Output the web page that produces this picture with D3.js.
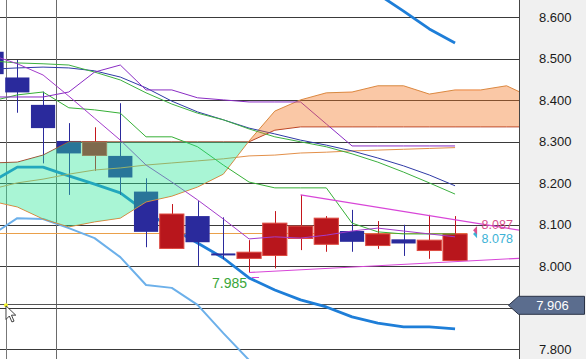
<!DOCTYPE html>
<html>
<head>
<meta charset="utf-8">
<script src="https://cdn.jsdelivr.net/npm/d3@7"></script>
<style>
	body{margin:0;background:#fff;overflow:hidden;}
	#chart{width:586px;height:359px;}
	text{font-family:"Liberation Sans Narrow","Arial Narrow","Liberation Sans",Arial,sans-serif;}
</style>
</head>
<body>
<div id="chart"></div>
<script>
// candles, oldest first (the first one is cut by the left edge)
const opens  = [8.517, 8.455, 8.389, 8.302, 8.267, 8.266, 8.180, 8.043, 8.121, 8.031, 8.019, 8.026, 8.067, 8.053, 8.085, 8.050, 8.065, 8.038, 8.014];
const highs  = [8.535, 8.497, 8.421, 8.345, 8.335, 8.393, 8.212, 8.150, 8.157, 8.118, 8.063, 8.133, 8.172, 8.121, 8.136, 8.109, 8.100, 8.124, 8.121];
const lows   = [8.447, 8.370, 8.248, 8.172, 8.230, 8.172, 8.046, 8.042, 8.001, 8.017, 7.985, 7.995, 8.039, 8.035, 8.035, 8.042, 8.025, 8.018, 8.014];
const closes = [8.463, 8.419, 8.333, 8.272, 8.300, 8.214, 8.083, 8.126, 8.058, 8.027, 8.034, 8.104, 8.097, 8.116, 8.059, 8.078, 8.055, 8.063, 8.078];

// indicator lines, one value per candle
const maNavy   = [8.475, 8.478, 8.480, 8.478, 8.471, 8.456, 8.430, 8.398, 8.372, 8.353, 8.333, 8.319, 8.304, 8.292, 8.278, 8.261, 8.242, 8.220, 8.194];
const maGreen  = [8.495, 8.490, 8.488, 8.485, 8.468, 8.449, 8.418, 8.391, 8.369, 8.353, 8.331, 8.312, 8.300, 8.288, 8.271, 8.251, 8.227, 8.201, 8.174];
const maLong   = [8.186, 8.201, 8.210, 8.222, 8.232, 8.237, 8.244, 8.249, 8.254, 8.259, 8.266, 8.268, 8.273, 8.275, 8.278, 8.280, 8.282, 8.284, 8.286];
const tenkan   = [8.408, 8.408, 8.408, 8.420, 8.468, 8.485, 8.425, 8.425, 8.406, 8.401, 8.396, 8.396, 8.396, 8.343, 8.290, 8.290, 8.290, 8.290, 8.290];
const kijun    = [8.398, 8.413, 8.420, 8.382, 8.377, 8.369, 8.312, 8.312, 8.288, 8.244, 8.203, 8.189, 8.189, 8.189, 8.104, 8.083, 8.078, 8.078, 8.078];
const maFast   = [8.509, 8.488, 8.461, 8.410, 8.357, 8.304, 8.244, 8.203, 8.160, 8.114, 8.066, 8.071, 8.068, 8.075, 8.085, 8.092, 8.085, 8.078, 8.071];
const bandUp   = [null, null, null, null, null, null, null, null, null, null, null, null, null, 8.738, 8.697, 8.656, 8.615, 8.572, 8.538];
const bandLow  = [8.203, 8.239, 8.239, 8.218, 8.198, 8.177, 8.131, 8.092, 8.056, 8.020, 7.972, 7.943, 7.919, 7.902, 7.878, 7.863, 7.854, 7.854, 7.849];
const bandLow3 = [8.075, 8.116, 8.114, 8.092, 8.068, 8.022, 7.955, 7.948, 7.907, 7.839, 7.774, 7.714, 7.678];

// cloud, runs three bars past the last candle
const spanA = [8.157, 8.143, 8.114, 8.095, 8.107, 8.116, 8.155, 8.169, 8.191, 8.222, 8.302, 8.374, 8.401, 8.418, 8.420, 8.435, 8.435, 8.415, 8.425, 8.425, 8.435, 8.406];
const spanB = [8.249, 8.251, 8.268, 8.300, 8.300, 8.300, 8.300, 8.300, 8.300, 8.300, 8.300, 8.328, 8.336, 8.336, 8.336, 8.336, 8.336, 8.336, 8.336, 8.336, 8.336, 8.336];

// drawn trend lines: [bar index, price]
const trendTop    = [[12, 8.172], [21, 8.082]];
const trendBottom = [[10, 7.985], [21, 8.021]];

const priceTicks = [7.8, 7.9, 8.0, 8.1, 8.2, 8.3, 8.4, 8.5, 8.6];
const separators = [2.5];
const bidPrice = 8.081;
const trendEndPrice = 8.087;
const lastPrice = 8.078;
const lowIndex = 10;
const cursor = {bar: 0.56, price: 7.906};

const width = 586, height = 359, plotW = 519;

const x = d3.scaleLinear().domain([0, opens.length - 1]).range([-8.45, 455.05]);
const y = d3.scaleLinear().domain([7.8, 8.6]).range([349.3, 17.3]);
const step = x(1) - x(0);
const bodyW = step * 0.94;
const crisp = (v) => Math.round(v) + 0.5;
const fmt = d3.format(".3f");

const svg = d3.select("#chart")
	.append("svg")
		.attr("width", width)
		.attr("height", height);

const defs = svg.append("defs");
defs.append("clipPath").attr("id", "plot-clip")
	.append("rect").attr("x", 0).attr("y", 0).attr("width", plotW).attr("height", height);

svg.append("rect")
	.attr("x", plotW).attr("y", 0)
	.attr("width", width - plotW).attr("height", height)
	.style("fill", "#f0f0f0");

const plot = svg.append("g").attr("clip-path", "url(#plot-clip)");

// grid
plot.append("g")
	.selectAll("line")
	.data(priceTicks)
	.join("line")
		.attr("x1", 0).attr("x2", plotW)
		.attr("y1", (d) => crisp(y(d)))
		.attr("y2", (d) => crisp(y(d)))
		.style("stroke", "#3a3a3a");

plot.append("g")
	.selectAll("line")
	.data(separators)
	.join("line")
		.attr("x1", (d) => crisp(x(d))).attr("x2", (d) => crisp(x(d)))
		.attr("y1", 0).attr("y2", height)
		.style("stroke", "#6a6a6a");

// crosshair
plot.append("line")
	.attr("x1", crisp(x(cursor.bar))).attr("x2", crisp(x(cursor.bar)))
	.attr("y1", 0).attr("y2", height)
	.style("stroke", "#777");
plot.append("line")
	.attr("x1", 0).attr("x2", plotW)
	.attr("y1", crisp(y(cursor.price) - 1)).attr("y2", crisp(y(cursor.price) - 1))
	.style("stroke", "#555");

// bid line
plot.append("line")
	.attr("x1", 0).attr("x2", x(opens.length - 1) + bodyW / 2)
	.attr("y1", crisp(y(bidPrice))).attr("y2", crisp(y(bidPrice)))
	.style("stroke", "#eaa04a");

function drawLine(values, color, w){
	const line = d3.line()
		.defined((d) => d !== null)
		.x((d, i) => x(i))
		.y((d) => y(d));
	plot.append("path")
		.datum(values)
		.attr("d", line)
		.style("fill", "none")
		.style("stroke", color)
		.style("stroke-width", w)
		.style("stroke-linejoin", "round");
}

// bands sit under the candles
drawLine(bandLow3, "#6cb0ea", 2);
drawLine(bandLow, "#1e7ed8", 2.8);
drawLine(bandUp, "#1e7ed8", 2.8);

// candles
const candles = plot.append("g")
	.selectAll("g")
	.data(d3.range(opens.length))
	.join("g");

candles.append("line")
	.attr("x1", (i) => crisp(x(i))).attr("x2", (i) => crisp(x(i)))
	.attr("y1", (i) => y(highs[i]))
	.attr("y2", (i) => y(lows[i]))
	.style("stroke", (i) => closes[i] >= opens[i] ? "#c4161c" : "#2a2a9c");

candles.append("rect")
	.attr("x", (i) => x(i) - bodyW / 2)
	.attr("y", (i) => y(Math.max(opens[i], closes[i])))
	.attr("width", bodyW)
	.attr("height", (i) => Math.max(2, Math.abs(y(opens[i]) - y(closes[i]))))
	.style("fill", (i) => closes[i] >= opens[i] ? "#b8161c" : "#2a2a9c")
	.style("stroke", (i) => closes[i] >= opens[i] ? "#de4a40" : "none")
	.style("stroke-width", 1);

// cloud edges
const cloudIdx = d3.range(spanA.length);
drawLine(spanB, "#b03a26", 1);
drawLine(spanA, "#e8843e", 1);

// thin lines
drawLine(maLong, "#e3904a", 1);
drawLine(maNavy, "#2f3aa6", 1);
drawLine(maGreen, "#3cb040", 1);
drawLine(kijun, "#36b036", 1);
drawLine(tenkan, "#8a2cc4", 1);
drawLine(maFast, "#a43ccc", 1);

// cloud fill, green where span A is below span B, orange where above
defs.append("clipPath").attr("id", "above-a")
	.append("path")
	.attr("d", d3.area().x((i) => x(i)).y0(0).y1((i) => y(spanA[i]))(cloudIdx));
defs.append("clipPath").attr("id", "below-a")
	.append("path")
	.attr("d", d3.area().x((i) => x(i)).y0(height).y1((i) => y(spanA[i]))(cloudIdx));

const between = d3.area()
	.x((i) => x(i))
	.y0((i) => y(spanA[i]))
	.y1((i) => y(spanB[i]));

plot.append("path")
	.attr("d", between(cloudIdx))
	.attr("clip-path", "url(#above-a)")
	.style("fill", "#28e696")
	.style("fill-opacity", 0.4);
plot.append("path")
	.attr("d", between(cloudIdx))
	.attr("clip-path", "url(#below-a)")
	.style("fill", "#f27520")
	.style("fill-opacity", 0.4);

// trend lines
[trendTop, trendBottom].forEach((pts) => {
	plot.append("line")
		.attr("x1", x(pts[0][0])).attr("y1", y(pts[0][1]))
		.attr("x2", x(pts[1][0])).attr("y2", y(pts[1][1]))
		.style("stroke", "#d846d8")
		.style("stroke-width", 1.2);
});

// low marker
plot.append("line")
	.attr("x1", x(lowIndex) + 3).attr("x2", x(lowIndex) + 10)
	.attr("y1", crisp(y(lows[lowIndex]) + 4)).attr("y2", crisp(y(lows[lowIndex]) + 4))
	.style("stroke", "#d846d8");
plot.append("text")
	.attr("x", x(lowIndex) - 2)
	.attr("y", y(lows[lowIndex]) + 15)
	.attr("text-anchor", "end")
	.style("font-size", "14px")
	.style("fill", "#3aa63a")
	.text(fmt(lows[lowIndex]));

// right axis; the label under the cursor box is hidden, as on screen
const axis = svg.append("g")
	.attr("transform", `translate(${plotW}, 0)`)
	.call(d3.axisRight(y)
		.tickValues(priceTicks)
		.tickSize(0)
		.tickPadding(20)
		.tickFormat((d) => Math.abs(y(d) - y(cursor.price)) < 12 ? "" : fmt(d)));
axis.select(".domain").remove();
axis.selectAll("text")
	.style("font-size", "13px")
	.style("font-family", null)
	.style("fill", "#1a1a1a");

svg.append("line")
	.attr("x1", plotW + 0.5).attr("x2", plotW + 0.5)
	.attr("y1", 0).attr("y2", height)
	.style("stroke", "#454545");

// last value tags
const tags = [
	{value: lastPrice, color: "#3cb2d6", dy: 4.8},
	{value: trendEndPrice, color: "#d8508c", dy: -5.8}
];
tags.forEach((t) => {
	const ty = y(t.value);
	svg.append("path")
		.attr("d", `M${x(18) + 18},${ty} L${x(18) + 22},${ty - 4.3} L${x(18) + 22},${ty + 4.3} Z`)
		.style("fill", t.color);
	svg.append("text")
		.attr("x", x(18) + 26.5)
		.attr("y", ty + t.dy)
		.attr("dy", "0.35em")
		.style("font-size", "12.5px")
		.style("fill", t.color)
		.text(fmt(t.value));
});

// cursor price box
const cy = y(cursor.price);
svg.append("path")
	.attr("d", `M${plotW - 10.5},${cy} L${plotW - 0.5},${cy - 9} L${width - 1.5},${cy - 9} L${width - 1.5},${cy + 9} L${plotW - 0.5},${cy + 9} Z`)
	.style("fill", "#5b6d8e")
	.style("stroke", "#2a3246");
svg.append("text")
	.attr("x", (plotW + width) / 2)
	.attr("y", cy)
	.attr("dy", "0.35em")
	.attr("text-anchor", "middle")
	.style("font-size", "13px")
	.style("fill", "#fff")
	.text(fmt(cursor.price));

// mouse pointer
const cx = x(cursor.bar);
svg.append("circle")
	.attr("cx", cx).attr("cy", cy)
	.attr("r", 2)
	.style("fill", "#ffff30");
svg.append("path")
	.attr("transform", `translate(${cx},${cy + 0.5}) scale(0.85)`)
	.attr("d", "M0,0 L0,16 L4,12 L7,19 L9.5,18 L6.5,11 L11.5,11 Z")
	.style("fill", "#fff")
	.style("stroke", "#222")
	.style("stroke-width", 1);
</script>
</body>
</html>
